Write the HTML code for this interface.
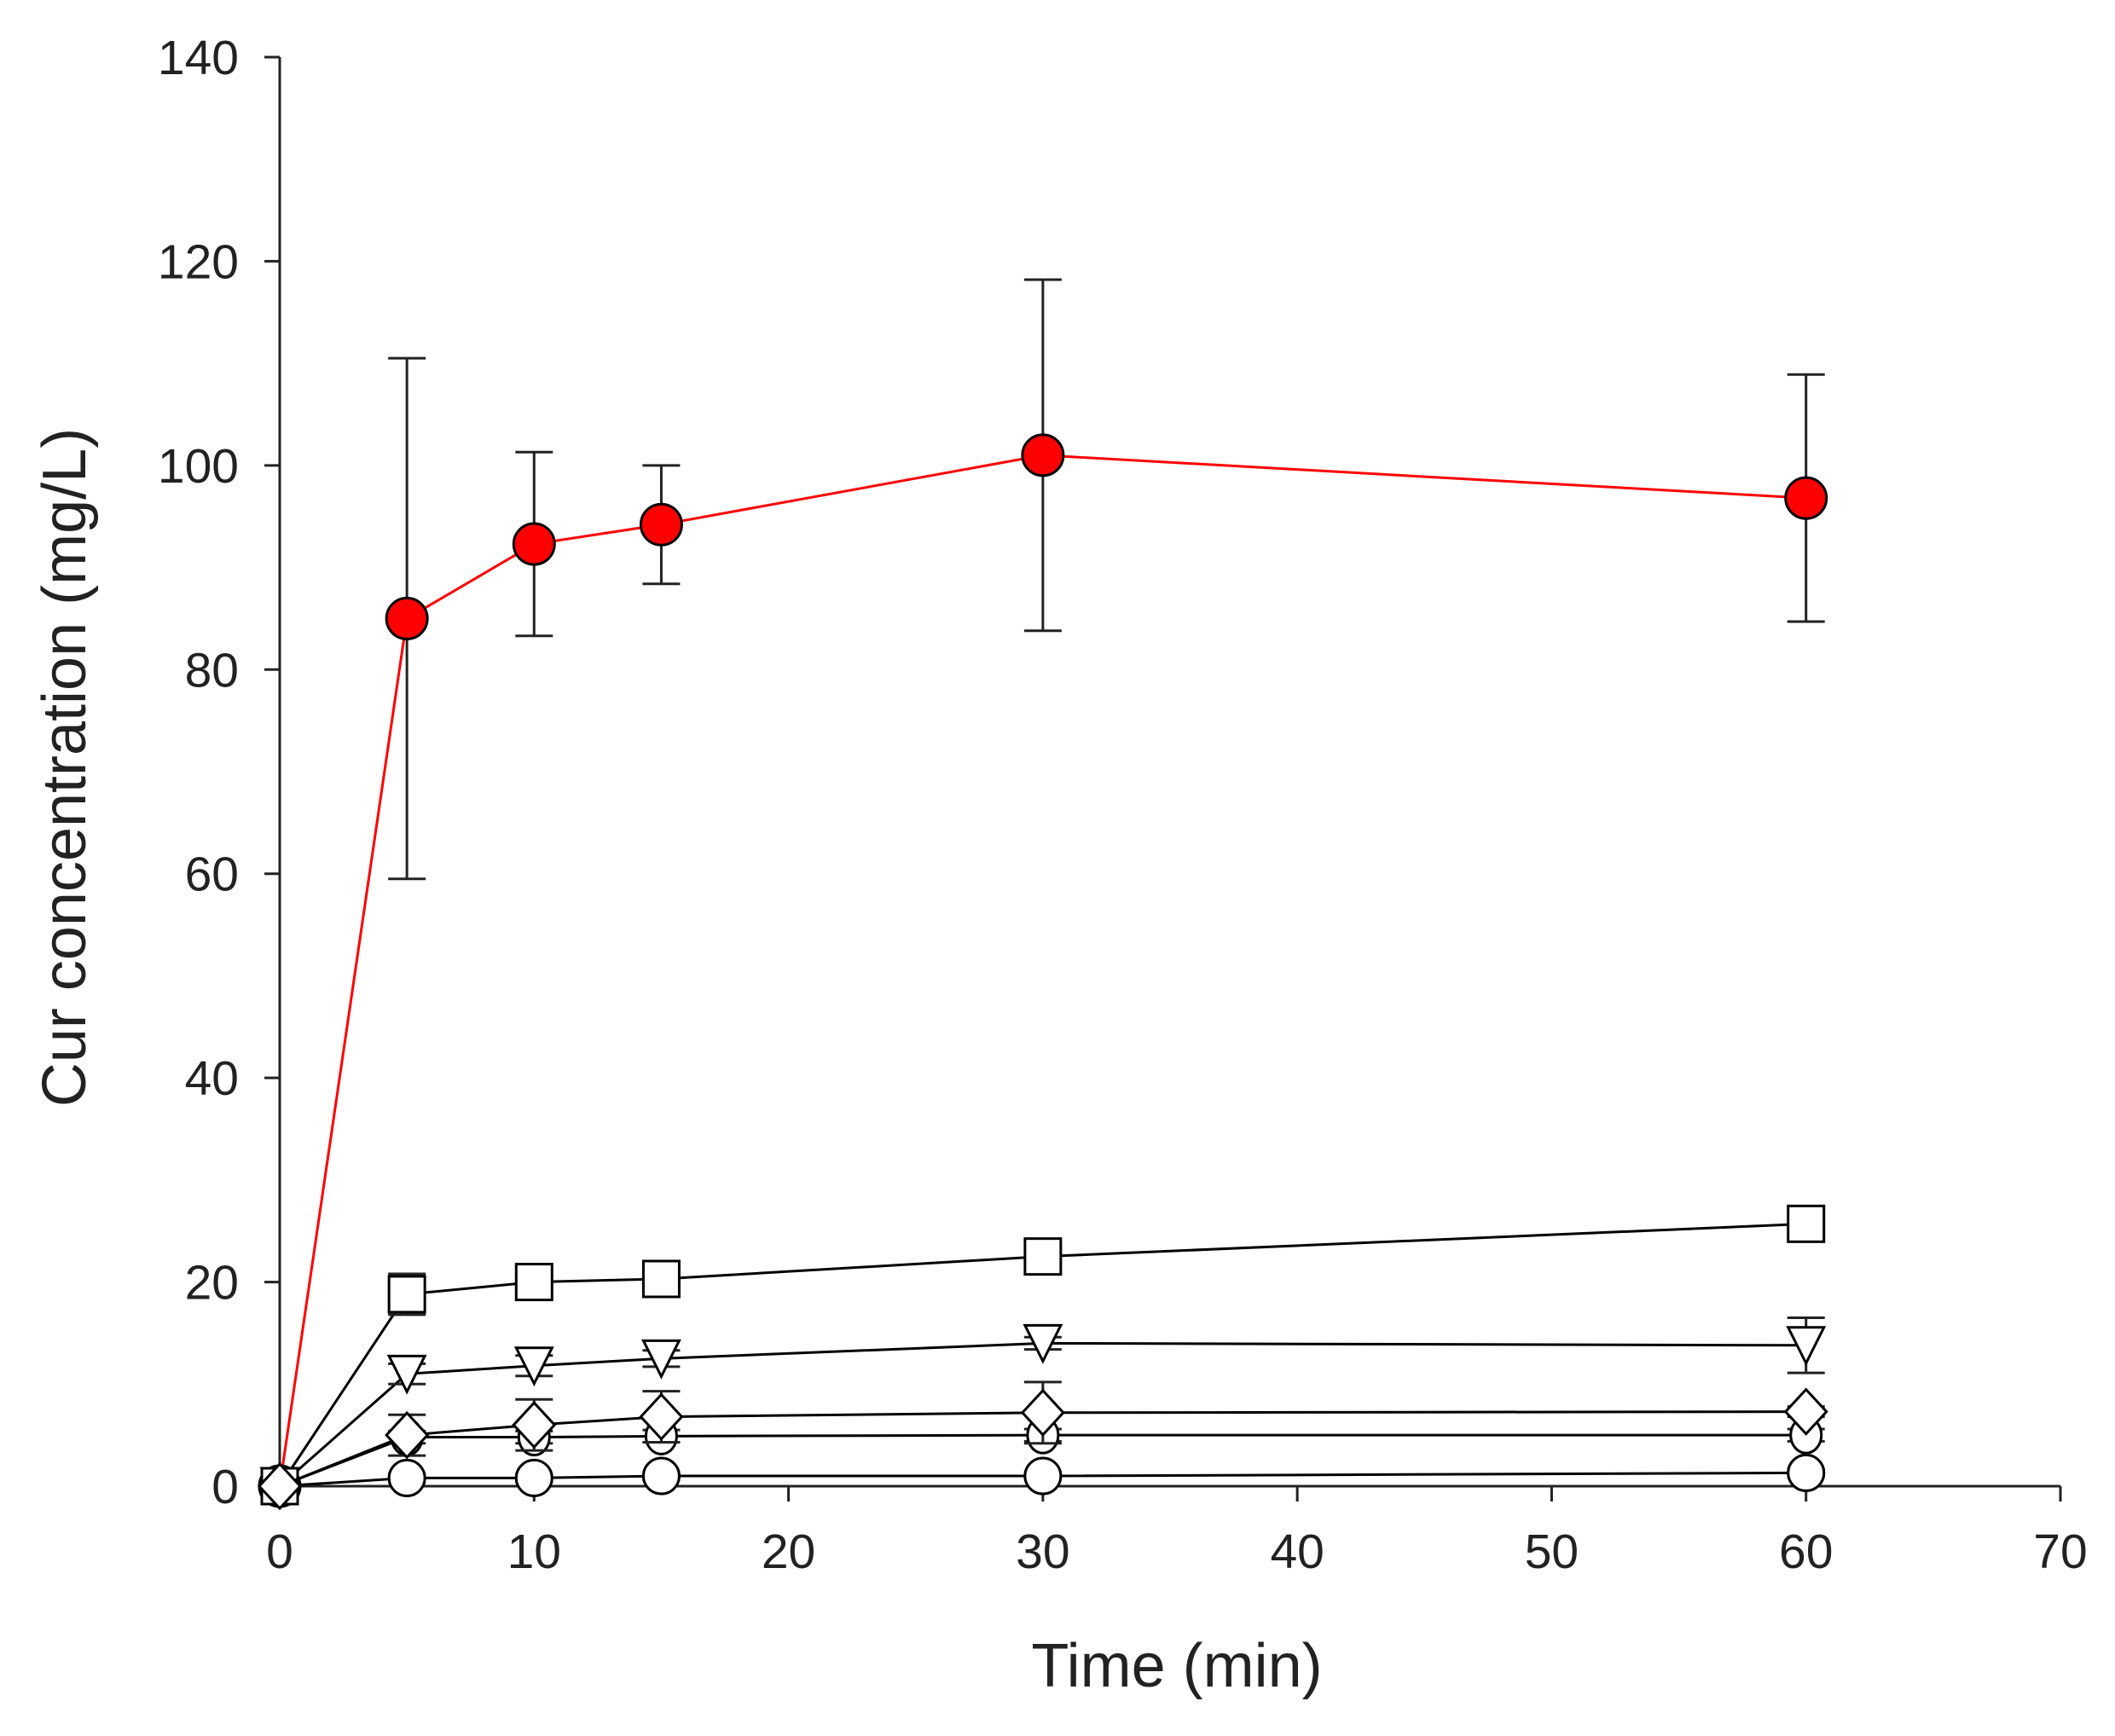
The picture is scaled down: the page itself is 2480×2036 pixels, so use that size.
<!DOCTYPE html>
<html><head><meta charset="utf-8"><style>
html,body{margin:0;padding:0;background:#fff;}
svg{display:block;font-family:"Liberation Sans",Arial,sans-serif;}
</style></head><body>
<svg id="chart" width="2480" height="2036" viewBox="0 0 2480 2036" xmlns="http://www.w3.org/2000/svg">
<g id="axes"></g>
<g id="series"></g>
<text x="1380" y="1978" font-size="72" text-anchor="middle" fill="#222">Time (min)</text>
<text transform="translate(100,900) rotate(-90)" font-size="72" text-anchor="middle" fill="#222">Cur concentration (mg/L)</text>
</svg>
<script>
const times = [0, 5, 10, 15, 30, 60];
const redVals = [0, 85, 92.3, 94.2, 101, 96.8];
const redErr = [0, 25.5, 9, 5.8, 17.2, 12.1];
const squareVals = [0, 18.8, 20, 20.3, 22.5, 25.7];
const squareErr = [0, 2, 0.8, 1, 0.6, 0.6];
const triVals = [0, 11, 11.8, 12.5, 14, 13.8];
const triErr = [0, 1, 1, 0.8, 0.6, 2.7];
const diamondVals = [0, 5, 6, 6.8, 7.2, 7.3];
const diamondErr = [0, 2, 2.5, 2.5, 3, 0.5];
const hexVals = [0, 4.8, 4.8, 4.9, 5, 5];
const hexErr = [0, 0.6, 0.6, 0.6, 0.6, 0.6];
const circleVals = [0, 0.8, 0.8, 1, 1, 1.3];
const circleErr = [0, 0.4, 0.4, 0.4, 0.4, 0.4];
const xTicks = [0, 10, 20, 30, 40, 50, 60, 70];
const yTicks = [0, 20, 40, 60, 80, 100, 120, 140];

const NS = "http://www.w3.org/2000/svg";
const X0 = 328, X1 = 2416, Y0 = 1743, Y1 = 67;
const xs = v => X0 + (v / 70) * (X1 - X0);
const ys = v => Y0 - (v / 140) * (Y0 - Y1);
function mk(tag, attrs, parent) {
  const e = document.createElementNS(NS, tag);
  for (const k in attrs) e.setAttribute(k, attrs[k]);
  parent.appendChild(e);
  return e;
}
const axes = document.getElementById('axes');
const ser = document.getElementById('series');

let l = mk('line', {x1: X0, y1: Y1, x2: X0, y2: Y0, stroke: '#222', 'stroke-width': 3}, axes);


l = mk('line', {x1: X0, y1: Y0, x2: X1, y2: Y0, stroke: '#222', 'stroke-width': 3}, axes);



yTicks.forEach(t => {
  const y = ys(t);
  const tk = mk('line', {x1: X0 - 18, y1: y, x2: X0, y2: y, stroke: '#222', 'stroke-width': 3}, axes);
  
  
  const tx = mk('text', {x: X0 - 48, y: y + 20, 'font-size': 57, 'text-anchor': 'end', fill: '#222'}, axes);
  tx.textContent = t;
  
  
});
xTicks.forEach(t => {
  const x = xs(t);
  const tk = mk('line', {x1: x, y1: Y0, x2: x, y2: Y0 + 18, stroke: '#222', 'stroke-width': 3}, axes);
  
  
  const tx = mk('text', {x: x, y: Y0 + 96, 'font-size': 57, 'text-anchor': 'middle', fill: '#222'}, axes);
  tx.textContent = t;
  
  
});

function marker(shape, x, y, fill, g) {
  const r = shape === 'circle' && fill !== '#fff' ? 24 : 21;
  let e;
  if (shape === 'circle') e = mk('circle', {cx: x, cy: y, r: r}, g);
  else if (shape === 'hex') e = mk('ellipse', {cx: x, cy: y, rx: r - 3, ry: r}, g);
  else if (shape === 'square') e = mk('rect', {x: x - r, y: y - r, width: 2 * r, height: 2 * r}, g);
  else if (shape === 'tri') e = mk('polygon', {points: `${x - r},${y - r} ${x + r},${y - r} ${x},${y + r}`}, g);
  else e = mk('polygon', {points: `${x},${y - r - 5} ${x + r + 3},${y} ${x},${y + r + 5} ${x - r - 3},${y}`}, g);
  e.setAttribute('fill', fill);
  e.setAttribute('stroke', '#000');
  e.setAttribute('stroke-width', 3);
  return e;
}
function drawSeries(name, vals, errs, shape, lineColor, fill) {
  const g = mk('g', {}, ser);
  
  
  const pts = times.map((t, i) => xs(t) + ',' + ys(vals[i])).join(' ');
  const pl = mk('polyline', {points: pts, fill: 'none', stroke: lineColor, 'stroke-width': 3}, g);
  
  
  times.forEach((t, i) => {
    if (!errs[i]) return;
    const x = xs(t), a = ys(vals[i] + errs[i]), b = ys(vals[i] - errs[i]);
    const eg = mk('path', {d: `M${x},${a}V${b}M${x - 22},${a}H${x + 22}M${x - 22},${b}H${x + 22}`, stroke: '#222', 'stroke-width': 3, fill: 'none'}, g);
    
    
  });
  times.forEach((t, i) => {
    const m = marker(shape, xs(t), ys(vals[i]), fill, g);
    
    
  });
}
drawSeries('red-series', redVals, redErr, 'circle', '#ff0000', '#ff0000');
drawSeries('circle-series', circleVals, circleErr, 'circle', '#000', '#fff');
drawSeries('hex-series', hexVals, hexErr, 'hex', '#000', '#fff');
drawSeries('triangle-series', triVals, triErr, 'tri', '#000', '#fff');
drawSeries('square-series', squareVals, squareErr, 'square', '#000', '#fff');
drawSeries('diamond-series', diamondVals, diamondErr, 'diamond', '#000', '#fff');
</script>
</body></html>
